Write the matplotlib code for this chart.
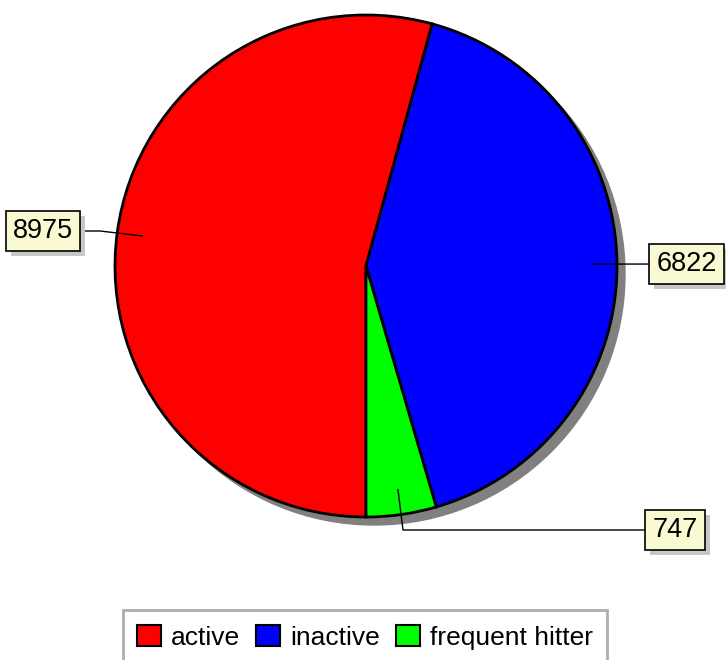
import numpy as np
import matplotlib
matplotlib.use("Agg")
import matplotlib.pyplot as plt
import matplotlib.patheffects as pe
from matplotlib.patches import Circle

plt.rcParams['font.family'] = ['Liberation Sans', 'DejaVu Sans']

# data
categories = ["active", "inactive", "frequent hitter"]
counts = [8975, 6822, 747]
colors = ["#ff0000", "#0000ff", "#00ff00"]

W, H = 726, 660
fig = plt.figure(figsize=(W / 100, H / 100), dpi=100)
ax = fig.add_axes([0, 0, 1, 1])

cx, cy, r = 366, H - 266, 251

# shadow of the pie
ax.add_patch(Circle((cx + 8, cy - 8), r, color='#808080', zorder=0))

wedges, _ = ax.pie(counts, colors=colors, startangle=270, counterclock=False,
                   center=(cx, cy), radius=r, frame=True,
                   wedgeprops=dict(edgecolor='black', linewidth=2.0))
for w in wedges:
    w.set_zorder(1)
ax.set_xlim(0, W)
ax.set_ylim(0, H)
ax.axis('off')

# label boxes: (box centre, elbow point) in pixels from the top-left
box_pos = [(43, 231), (686.5, 264), (675, 530)]
elbows = [(100, 231), None, (403, 530)]

for w, val, (bx, by), elb in zip(wedges, counts, box_pos, elbows):
    mid = np.deg2rad((w.theta1 + w.theta2) / 2)
    ax_x = cx + 0.9 * r * np.cos(mid)
    ax_y = cy + 0.9 * r * np.sin(mid)
    xs, ys = [ax_x], [ax_y]
    if elb is not None:
        xs.append(elb[0])
        ys.append(H - elb[1])
    xs.append(bx)
    ys.append(H - by)
    ax.plot(xs, ys, color='black', lw=1.0, zorder=2)
    t = ax.text(bx, H - by, str(val), ha='center', va='center', fontsize=19.5, zorder=3,
                bbox=dict(boxstyle='square,pad=0.27', fc='#fafad2', ec='black', lw=1.2))
    t.get_bbox_patch().set_path_effects([
        pe.SimplePatchShadow(offset=(3.6, -3.6), shadow_rgbFace='0.78', alpha=1.0),
        pe.Normal()])

leg = ax.legend(wedges, categories, loc='upper center',
                bbox_to_anchor=(365 / W, 1 - 610 / H), bbox_transform=fig.transFigure,
                ncol=3, fontsize=19, frameon=True, fancybox=False,
                handlelength=0.9, handleheight=0.9, handletextpad=0.38,
                columnspacing=0.62, borderpad=0.55, borderaxespad=0)
leg.get_frame().set_edgecolor('#999999')
leg.get_frame().set_linewidth(2)
for h in leg.legend_handles:
    h.set_linewidth(1.5)

fig.savefig('out.png', dpi=100)
